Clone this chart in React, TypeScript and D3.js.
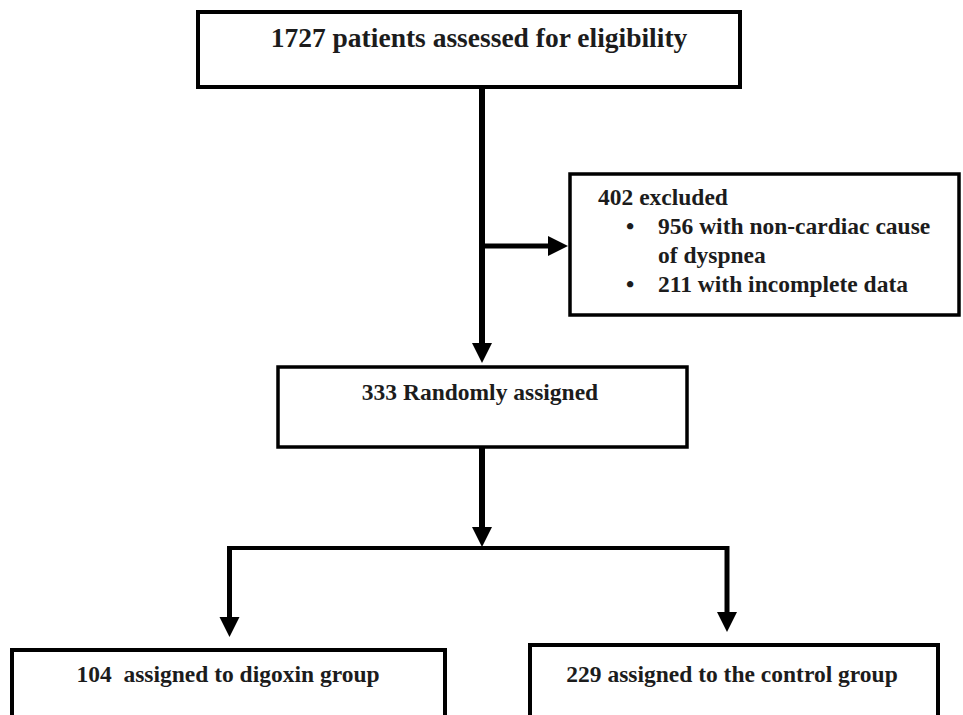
import { useEffect, useRef } from "react";
import * as d3 from "d3";

// flow chart content
const assessedLabel = "1727 patients assessed for eligibility";
const excludedTitle = "402 excluded";
const excludedReasons = [
  ["956 with non-cardiac cause", "of dyspnea"],
  ["211 with incomplete data"],
];
const randomizedLabel = "333 Randomly assigned";
const groupLabels = ["104\u00a0 assigned to digoxin group", "229 assigned to the control group"];

export default function App() {
  const ref = useRef<SVGSVGElement>(null);

  useEffect(() => {
    const width = 963;
    const height = 715;
    const font = '"Liberation Serif", Tinos, "Times New Roman", Times, "DejaVu Serif", serif';
    const ink = "#000";
    const textInk = "#1c1c1c";

    const svg = d3.select(ref.current)
      .attr("viewBox", [0, 0, width, height])
      .attr("width", width)
      .attr("height", height)
      .style("position", "absolute")
      .style("left", 0)
      .style("top", 0)
      .style("background", "#fff");

    svg.selectAll("*").remove();

    const line = d3.line();

    // boxes
    const boxes = [
      { x: 198, y: 12, w: 542, h: 75, sw: 4 },
      { x: 570, y: 174, w: 389, h: 141, sw: 3.5 },
      { x: 278, y: 367, w: 409, h: 80, sw: 3.5 },
      { x: 12, y: 650, w: 433, h: 80, sw: 4 },
      { x: 530, y: 645, w: 408, h: 85, sw: 4 },
    ];
    svg.append("g")
      .selectAll("rect")
      .data(boxes)
      .join("rect")
      .attr("x", d => d.x)
      .attr("y", d => d.y)
      .attr("width", d => d.w)
      .attr("height", d => d.h)
      .attr("fill", "none")
      .attr("stroke", ink)
      .attr("stroke-width", d => d.sw);

    // connectors
    const links: { pts: [number, number][]; sw: number }[] = [
      { pts: [[482, 87], [482, 345]], sw: 6 },
      { pts: [[482, 246], [550, 246]], sw: 5 },
      { pts: [[482, 447], [482, 530]], sw: 6 },
      { pts: [[229.5, 548], [727, 548]], sw: 4 },
      { pts: [[229.5, 546], [229.5, 620]], sw: 5 },
      { pts: [[727, 546], [727, 615]], sw: 5 },
    ];
    svg.append("g")
      .selectAll("path")
      .data(links)
      .join("path")
      .attr("d", d => line(d.pts))
      .attr("fill", "none")
      .attr("stroke", ink)
      .attr("stroke-width", d => d.sw);

    // arrow heads: tip point and direction
    const heads = [
      { x: 482, y: 363, dir: "down" },
      { x: 568, y: 246, dir: "right" },
      { x: 482, y: 547, dir: "down" },
      { x: 229.5, y: 637, dir: "down" },
      { x: 727, y: 632, dir: "down" },
    ];
    const hl = 20, hw = 10;
    svg.append("g")
      .selectAll("path")
      .data(heads)
      .join("path")
      .attr("d", d => d.dir === "down"
        ? `M${d.x},${d.y}L${d.x - hw},${d.y - hl}L${d.x + hw},${d.y - hl}Z`
        : `M${d.x},${d.y}L${d.x - hl},${d.y - hw}L${d.x - hl},${d.y + hw}Z`)
      .attr("fill", ink);

    const txt = svg.append("g")
      .style("font-family", font)
      .style("font-weight", "bold")
      .attr("fill", textInk);

    txt.append("text")
      .attr("x", 479)
      .attr("y", 47)
      .attr("font-size", 27.5)
      .attr("text-anchor", "middle")
      .text(assessedLabel);

    txt.append("text")
      .attr("x", 598)
      .attr("y", 205)
      .attr("font-size", 23.5)
      .text(excludedTitle);

    let row = 1;
    excludedReasons.forEach(lines => {
      txt.append("text")
        .attr("x", 630)
        .attr("y", 205 + row * 29)
        .attr("font-size", 23.5)
        .attr("text-anchor", "middle")
        .text("\u2022");
      lines.forEach(l => {
        txt.append("text")
          .attr("x", 658)
          .attr("y", 205 + row * 29)
          .attr("font-size", 23.5)
          .text(l);
        row++;
      });
    });

    txt.append("text")
      .attr("x", 480)
      .attr("y", 400)
      .attr("font-size", 23.5)
      .attr("text-anchor", "middle")
      .text(randomizedLabel);

    const groupX = [228, 732];
    txt.selectAll("text.group")
      .data(groupLabels)
      .join("text")
      .attr("class", "group")
      .attr("x", (_, i) => groupX[i])
      .attr("y", 682)
      .attr("font-size", 23.5)
      .attr("text-anchor", "middle")
      .text(d => d);
  }, []);

  return <svg ref={ref}></svg>;
}
